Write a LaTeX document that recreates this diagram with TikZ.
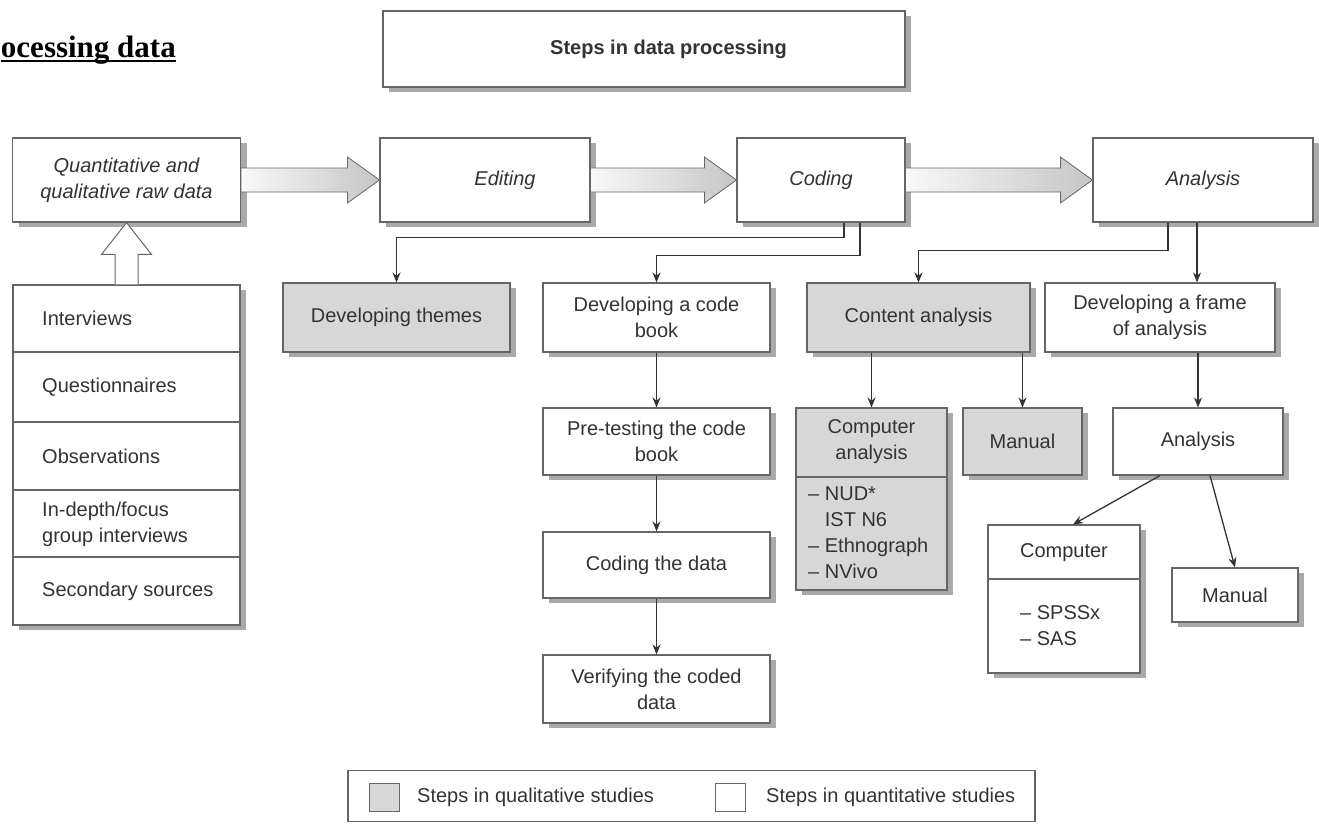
\documentclass[tikz,border=0pt]{standalone}
\usepackage{fontspec}
\setmainfont{Liberation Sans}
\newfontfamily\titleserif{Liberation Serif}
\usetikzlibrary{shadows,arrows.meta,calc}
\definecolor{ink}{HTML}{333333}
\definecolor{edge}{HTML}{666666}
\definecolor{shade}{HTML}{A9A9A9}
\definecolor{qual}{HTML}{D7D7D7}
\begin{document}
\begin{tikzpicture}[x=1pt,y=-1pt,
  every node/.style={font=\fontsize{20}{26}\selectfont, text=ink, inner sep=0pt},
  ital/.style={font=\fontsize{20}{26}\selectfont\itshape},
  box/.style={draw=edge, line width=1.1pt, fill=white, align=center,
    drop shadow={shadow xshift=6pt, shadow yshift=-5pt, fill=shade, opacity=1}},
  qbox/.style={box, fill=qual},
  divider/.style={draw=edge, line width=1.1pt},
  conn/.style={draw=ink, line width=1.3pt, -{Stealth[length=10pt,width=8pt]}},
  barrow/.style={draw=edge, line width=0.8pt, left color=gray!5, right color=gray!45},
  harrow/.style={draw=edge, line width=1pt, fill=white},
]
\useasboundingbox (0,0) rectangle (1319,823);

% heading
\node[anchor=base east, font=\titleserif\fontsize{31}{36}\selectfont\bfseries, text=black] (head) at (176,57) {ocessing data};
\draw[line width=2pt] ([yshift=-4pt]head.base west) -- ([yshift=-4pt]head.base east);

% title box
\node[box, minimum width=522pt, minimum height=76pt] (tbox) at (644,49) {};
\node[anchor=west, font=\fontsize{20}{26}\selectfont\bfseries] (ttext) at (550,49) {Steps in data processing};

% top row
\node[box, ital, minimum width=228pt, minimum height=84pt] (src) at (126.5,180) {Quantitative and\\qualitative raw data};
\node[box, ital, minimum width=210pt, minimum height=84pt] (edit) at (485,180) {};
\node[ital] (editt) at (505,180) {Editing};
\node[box, ital, minimum width=168pt, minimum height=84pt] (code) at (821,180) {Coding};
\node[box, ital, minimum width=220pt, minimum height=84pt] (anal) at (1203,180) {Analysis};

% block arrows
\path[barrow] ($(src.east)+(0,-12)$) -- ($(edit.west)+(-32,-12)$) -- ($(edit.west)+(-32,-23)$) -- (edit.west) -- ($(edit.west)+(-32,23)$) -- ($(edit.west)+(-32,12)$) -- ($(src.east)+(0,12)$) -- cycle;
\path[barrow] ($(edit.east)+(0,-12)$) -- ($(code.west)+(-32,-12)$) -- ($(code.west)+(-32,-23)$) -- (code.west) -- ($(code.west)+(-32,23)$) -- ($(code.west)+(-32,12)$) -- ($(edit.east)+(0,12)$) -- cycle;
\path[barrow] ($(code.east)+(0,-12)$) -- ($(anal.west)+(-32,-12)$) -- ($(anal.west)+(-32,-23)$) -- (anal.west) -- ($(anal.west)+(-32,23)$) -- ($(anal.west)+(-32,12)$) -- ($(code.east)+(0,12)$) -- cycle;

% source list
\node[box, minimum width=227pt, minimum height=340pt] (list) at (126.5,455) {};
\draw[divider] (list.west |- 0,352) -- (list.east |- 0,352);
\draw[divider] (list.west |- 0,422) -- (list.east |- 0,422);
\draw[divider] (list.west |- 0,490) -- (list.east |- 0,490);
\draw[divider] (list.west |- 0,557) -- (list.east |- 0,557);
\node[anchor=west] (i1) at (42,318.5) {Interviews};
\node[anchor=west] (i2) at (42,387) {Questionnaires};
\node[anchor=west] (i3) at (42,456) {Observations};
\node[anchor=west, align=left] (i4) at (42,524) {In-depth/focus\\group interviews};
\node[anchor=west] (i5) at (42,591) {Secondary sources};

% hollow arrow
\path[harrow] ($(list.north)+(-11.5,0)$) -- ($(list.north)+(-11.5,-30)$) -- ($(list.north)+(-25,-30)$) -- (src.south) -- ($(list.north)+(25,-30)$) -- ($(list.north)+(11.5,-30)$) -- ($(list.north)+(11.5,0)$);

% second row
\node[qbox, minimum width=227pt, minimum height=69pt] (themes) at (396.5,317.5) {Developing themes};
\node[box, minimum width=227pt, minimum height=69pt] (cbook) at (656.5,317.5) {Developing a code\\book};
\node[qbox, minimum width=223pt, minimum height=69pt] (content) at (918.5,317.5) {Content analysis};
\node[box, minimum width=230pt, minimum height=69pt] (frame) at (1160,317.5) {Developing a frame\\of analysis};

% code book column
\node[box, minimum width=227pt, minimum height=67pt] (pretest) at (656.5,441.5) {Pre-testing the code\\book};
\node[box, minimum width=227pt, minimum height=66pt] (cdata) at (656.5,565) {Coding the data};
\node[box, minimum width=227pt, minimum height=68pt] (verify) at (656.5,689) {Verifying the coded\\data};

% content analysis branch
\node[qbox, minimum width=151pt, minimum height=182pt] (compA) at (871.5,499) {};
\draw[divider] (compA.west |- 0,477) -- (compA.east |- 0,477);
\node[align=center] (compAt) at (871.5,442) {Computer\\analysis};
\node[anchor=west, align=left] (compAl) at (808,533) {-- NUD*\\\phantom{-- }IST N6\\-- Ethnograph\\-- NVivo};
\node[qbox, minimum width=119pt, minimum height=67pt] (man1) at (1022.5,441.5) {Manual};

% frame branch
\node[box, minimum width=170pt, minimum height=67pt] (anal2) at (1198,441.5) {Analysis};
\node[box, minimum width=152pt, minimum height=148pt] (comp) at (1064,599) {};
\draw[divider] (comp.west |- 0,579) -- (comp.east |- 0,579);
\node (compt) at (1064,553) {Computer};
\node[anchor=west, align=left] (compl) at (1020,626) {-- SPSSx\\-- SAS};
\node[box, minimum width=126pt, minimum height=54pt] (man2) at (1235,595) {Manual};

% connectors
\draw[conn] ([xshift=23pt]code.south) -- ++(0,15) -| (themes.north);
\draw[conn] ([xshift=39pt]code.south) -- ++(0,33) -| (cbook.north);
\draw[conn] ([xshift=-35pt]anal.south) -- ++(0,28) -| (content.north);
\draw[conn] ([xshift=-6pt]anal.south) -- ([xshift=-6pt]anal.south |- frame.north);
\draw[conn] (frame.south -| anal2.north) -- (anal2.north);
\draw[conn] (cbook) -- (pretest);
\draw[conn] (pretest) -- (cdata);
\draw[conn] (cdata) -- (verify);
\draw[conn] (content.south -| compA.north) -- (compA.north);
\draw[conn] (content.south -| man1.north) -- (man1.north);
\draw[conn] ([xshift=-38pt]anal2.south) -- ([xshift=9pt]comp.north);
\draw[conn] ([xshift=12pt]anal2.south) -- (man2.north);

% legend
\node[draw=edge, line width=1.1pt, minimum width=687pt, minimum height=51pt] (legend) at (691.5,796) {};
\node[draw=edge, line width=1pt, fill=qual, minimum width=30pt, minimum height=28pt] (lq) at (384,797) {};
\node[anchor=west] (lqt) at (417,797) {Steps in qualitative studies};
\node[draw=edge, line width=1pt, fill=white, minimum width=30pt, minimum height=28pt] (ln) at (730.5,797) {};
\node[anchor=west] (lnt) at (766,797) {Steps in quantitative studies};
\end{tikzpicture}
\end{document}
